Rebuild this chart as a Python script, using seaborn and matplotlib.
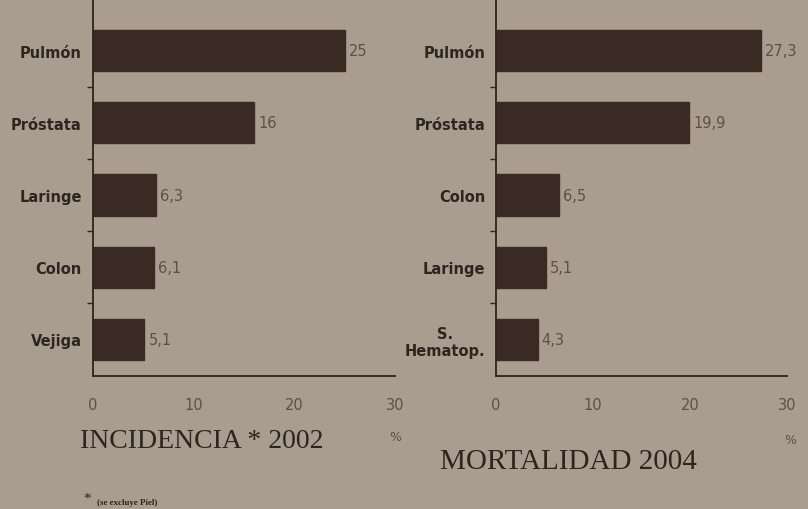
import matplotlib
matplotlib.use("Agg")
import matplotlib.pyplot as plt
import seaborn as sns
import pandas as pd

inc_cats = ["Pulmón", "Próstata", "Laringe", "Colon", "Vejiga"]
inc_vals = [25, 16, 6.3, 6.1, 5.1]
inc_labels = ["25", "16", "6,3", "6,1", "5,1"]

mort_cats = ["Pulmón", "Próstata", "Colon", "Laringe", "S.\nHematop."]
mort_vals = [27.3, 19.9, 6.5, 5.1, 4.3]
mort_labels = ["27,3", "19,9", "6,5", "5,1", "4,3"]

x_ticks = [0, 10, 20, 30]

bg = "#a99d8f"
bar_color = "#3a2a24"
txt_dark = "#2e2420"
txt_light = "#5c5048"

sns.set_theme(style="white")
plt.rcParams["font.family"] = ["DejaVu Sans"]

fig = plt.figure(figsize=(8.08, 5.10), dpi=100, facecolor=bg)
ax1 = fig.add_axes([0.115, 0.261, 0.374, 0.739])
ax2 = fig.add_axes([0.614, 0.261, 0.360, 0.739])


def draw(ax, cats, vals, labels):
    df = pd.DataFrame({"cat": cats, "val": vals})
    ax.set_facecolor(bg)
    sns.barplot(data=df, y="cat", x="val", orient="h", color=bar_color,
                width=0.57, saturation=1, ax=ax, edgecolor=bar_color)
    for i, (v, lab) in enumerate(zip(vals, labels)):
        ax.text(v + 0.4, i, lab, va="center", ha="left", fontsize=10.5,
                color=txt_light)
    ax.set_xlim(0, 30)
    ax.set_ylim(4.51, -0.72)
    ax.set_xticks(x_ticks)
    ax.set_xticklabels([str(t) for t in x_ticks], fontsize=10.5, color=txt_light)
    ax.tick_params(axis="x", direction="inout", length=6, width=1,
                   color=txt_dark, pad=12)
    ax.set_yticks(range(len(cats)))
    ax.set_yticklabels(cats, fontsize=10.5, fontweight="bold", color=txt_dark,
                       ha="right", multialignment="center")
    ax.set_yticks([i + 0.5 for i in range(len(cats) - 1)], minor=True)
    ax.tick_params(axis="y", which="major", length=0, pad=8)
    ax.tick_params(axis="y", which="minor", left=True, direction="out",
                   length=4, width=1, color=txt_dark)
    ax.set_xlabel("")
    ax.set_ylabel("")
    for s in ["top", "right"]:
        ax.spines[s].set_visible(False)
    for s in ["left", "bottom"]:
        ax.spines[s].set_color(txt_dark)
        ax.spines[s].set_linewidth(1.3)


draw(ax1, inc_cats, inc_vals, inc_labels)
draw(ax2, mort_cats, mort_vals, mort_labels)

serif = ["Liberation Serif", "DejaVu Serif"]
fig.text(395 / 808, 1 - 438 / 510, "%", fontsize=9, color=txt_light, ha="center", va="center")
fig.text(790 / 808, 1 - 440 / 510, "%", fontsize=9, color=txt_light, ha="center", va="center")
fig.text(80 / 808, 1 - 442 / 510, "INCIDENCIA * 2002", fontsize=20, family=serif,
         color=txt_dark, ha="left", va="center")
fig.text(440 / 808, 1 - 462 / 510, "MORTALIDAD 2004", fontsize=21, family=serif,
         color=txt_dark, ha="left", va="center")
fig.text(83 / 808, 1 - 499 / 510, "*", fontsize=11, family=serif,
         color=txt_dark, ha="left", va="center")
fig.text(97 / 808, 1 - 503 / 510, "(se excluye Piel)", fontsize=6.5, family=serif,
         fontweight="bold", color=txt_dark, ha="left", va="center")

fig.savefig("out.png", dpi=100, facecolor=bg)
